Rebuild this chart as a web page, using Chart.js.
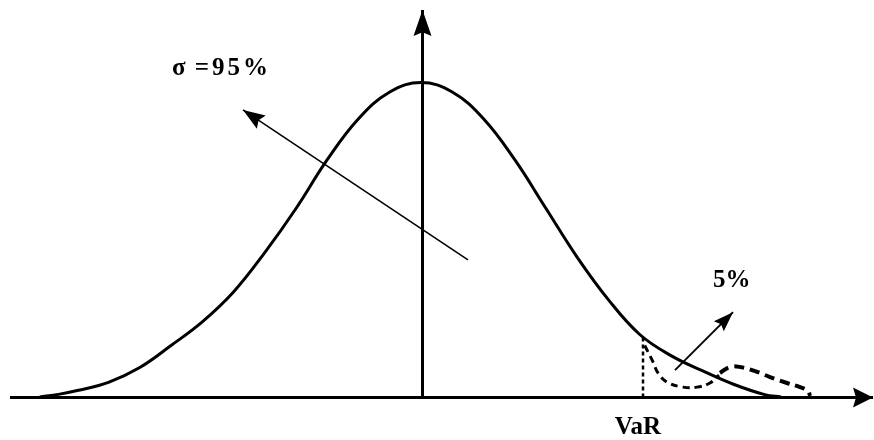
<!DOCTYPE html>
<html>
<head>
<meta charset="utf-8">
<script src="https://cdn.jsdelivr.net/npm/chart.js@4/dist/chart.umd.min.js"></script>
<style>
  body { margin: 0; background: #fff; }
  #wrap { width: 874px; height: 440px; }
</style>
</head>
<body>
<div id="wrap"><canvas id="curva" width="874" height="440"></canvas></div>
<script>
// x in sigma units (mean = 0), y = density relative to the peak
var curveX = [-3.05, -2.9, -2.75, -2.5, -2.25, -2.0, -1.75, -1.5, -1.25, -1.0, -0.75, -0.5, -0.25, 0,
              0.25, 0.5, 0.75, 1.0, 1.25, 1.5, 1.75, 2.0, 2.25, 2.5, 2.75, 2.88];
var curveY = [0.002, 0.010, 0.022, 0.048, 0.095, 0.165, 0.240, 0.335, 0.460, 0.600, 0.755, 0.885, 0.970, 1.0,
              0.970, 0.885, 0.755, 0.600, 0.445, 0.310, 0.200, 0.133, 0.085, 0.042, 0.009, 0.002];

// VaR cut
var varX = [1.776, 1.776];
var varY = [0, 0.192];

// dashed tail shapes
var tail1X = [1.79, 1.856, 1.896, 1.968, 2.096, 2.208, 2.312, 2.384];
var tail1Y = [0.165, 0.113, 0.078, 0.049, 0.033, 0.033, 0.046, 0.071];
var tail2X = [2.392, 2.472, 2.552, 2.672, 2.792, 2.928, 3.032, 3.096, 3.112];
var tail2Y = [0.078, 0.097, 0.097, 0.084, 0.065, 0.046, 0.033, 0.021, 0.005];

// axes
var ejeX = [[-3.288, 0], [3.616, 0]];
var ejeY = [[0.012, 0], [0.012, 1.23]];

// arrows (tail -> tip)
var flechaSigma = [[0.376, 0.437], [-1.424, 0.913]];
var flecha5 = [[2.032, 0.087], [2.496, 0.271]];

// labels
var etiquetas = [
    { texto: "σ", x: -1.992, y: 1.024, esp: 0 },
    { texto: "=95%", x: -1.81, y: 1.024, esp: 3 },
    { texto: "5%", x: 2.336, y: 0.351, esp: 0 },
    { texto: "VaR", x: 1.55, y: -0.116, esp: 0 }
];

function puntos(xs, ys) {
    var p = [];
    for (var i = 0; i < xs.length; i++) {
        p.push({ x: xs[i], y: ys[i] });
    }
    return p;
}
function par(a) {
    return a.map(function (q) { return { x: q[0], y: q[1] }; });
}

var flechas = {
    id: 'flechas',
    afterDatasetsDraw: function (chart) {
        var c = chart.ctx;
        var sx = chart.scales.x, sy = chart.scales.y;
        chart.data.datasets.forEach(function (ds) {
            if (!ds.punta) return;
            var n = ds.data.length;
            var a = ds.data[n - 2], b = ds.data[n - 1];
            var x1 = sx.getPixelForValue(a.x), y1 = sy.getPixelForValue(a.y);
            var x2 = sx.getPixelForValue(b.x), y2 = sy.getPixelForValue(b.y);
            var ang = Math.atan2(y2 - y1, x2 - x1);
            var L = ds.punta[0], W = ds.punta[1];
            c.save();
            c.fillStyle = '#000';
            c.translate(x2, y2);
            c.rotate(ang);
            c.beginPath();
            c.moveTo(0, 0);
            c.lineTo(-L, -W);
            c.lineTo(-L * 0.85, 0);
            c.lineTo(-L, W);
            c.closePath();
            c.fill();
            c.restore();
        });
        c.save();
        c.fillStyle = '#000';
        c.font = 'bold 25px "Liberation Serif"';
        c.textBaseline = 'alphabetic';
        c.textAlign = 'left';
        etiquetas.forEach(function (e) {
            c.letterSpacing = e.esp + 'px';
            c.fillText(e.texto, sx.getPixelForValue(e.x), sy.getPixelForValue(e.y));
        });
        c.restore();
    }
};

var ctx = document.getElementById('curva').getContext('2d');
var chart_normal = new Chart(ctx, {
    type: 'scatter',
    data: {
        datasets: [
            { data: puntos(curveX, curveY), borderColor: '#000', borderWidth: 3, showLine: true,
              tension: 0.4, pointRadius: 0 },
            { data: par(ejeX), borderColor: '#000', borderWidth: 3, showLine: true, pointRadius: 0, punta: [20, 10] },
            { data: par(ejeY), borderColor: '#000', borderWidth: 3, showLine: true, pointRadius: 0, punta: [26, 9] },
            { data: puntos(varX, varY), borderColor: '#000', borderWidth: 2.5, borderDash: [4, 3], showLine: true, pointRadius: 0 },
            { data: puntos(tail1X, tail1Y), borderColor: '#000', borderWidth: 3, borderDash: [7, 5], showLine: true,
              tension: 0.4, pointRadius: 0 },
            { data: puntos(tail2X, tail2Y), borderColor: '#000', borderWidth: 4, borderDash: [10, 6], showLine: true,
              tension: 0.4, pointRadius: 0 },
            { data: par(flechaSigma), borderColor: '#000', borderWidth: 1.5, showLine: true, pointRadius: 0, punta: [22, 8] },
            { data: par(flecha5), borderColor: '#000', borderWidth: 2, showLine: true, pointRadius: 0, punta: [20, 7] }
        ]
    },
    options: {
        responsive: false,
        animation: false,
        layout: { padding: 0 },
        plugins: { legend: { display: false }, tooltip: { enabled: false } },
        scales: {
            x: { type: 'linear', display: false, min: -3.368, max: 3.624 },
            y: { type: 'linear', display: false, min: -0.1349, max: 1.2619 }
        }
    },
    plugins: [flechas]
});
</script>
</body>
</html>
